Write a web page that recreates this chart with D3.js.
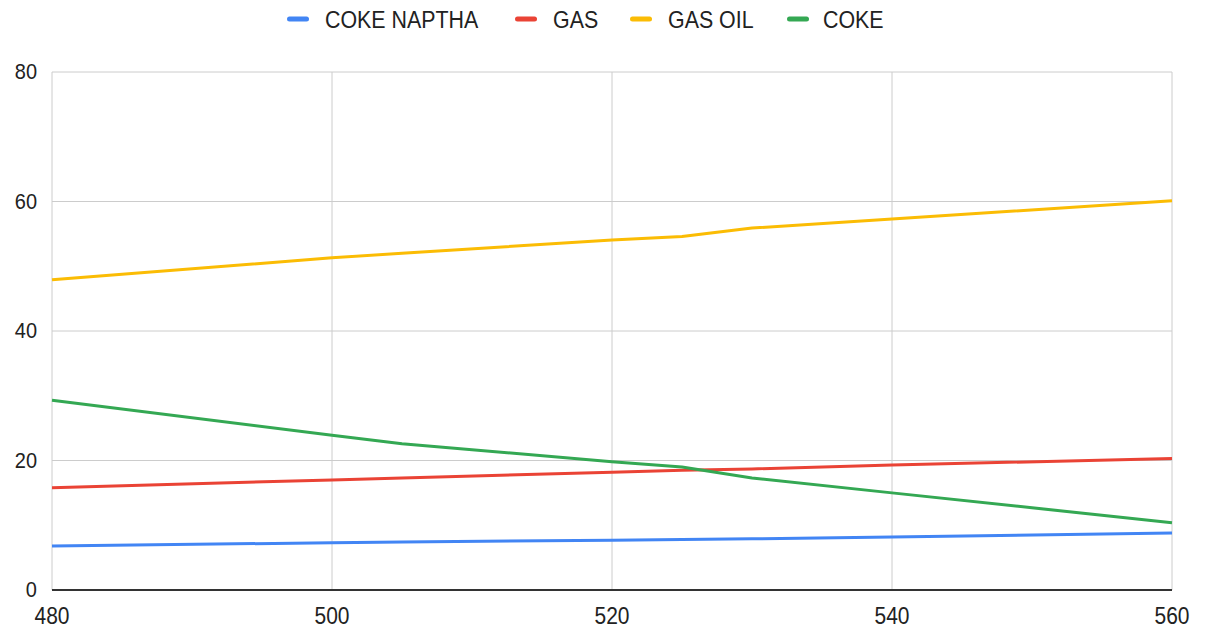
<!DOCTYPE html>
<html><head><meta charset="utf-8">
<script src="https://cdn.jsdelivr.net/npm/d3@7"></script>
<style>body{margin:0;background:#fff;} svg{display:block;font-family:"Liberation Sans", Arial, sans-serif;}</style>
</head><body>
<svg id="c" width="1208" height="628"></svg>
<script>
const xValues = [480, 500, 505, 520, 525, 530, 540, 560];
const cokeNaptha = [6.8, 7.3, 7.4, 7.7, 7.8, 7.9, 8.2, 8.8];
const gas = [15.8, 17.0, 17.3, 18.2, 18.5, 18.7, 19.3, 20.3];
const gasOil = [47.9, 51.3, 52.0, 54.05, 54.6, 55.9, 57.3, 60.1];
const coke = [29.3, 23.9, 22.6, 19.8, 19.0, 17.3, 15.0, 10.4];
const seriesNames = ["COKE NAPTHA", "GAS", "GAS OIL", "COKE"];
const seriesColors = ["#4285F4", "#EA4335", "#FBBC04", "#34A853"];
const xTicks = [480, 500, 520, 540, 560];
const yTicks = [0, 20, 40, 60, 80];

const series = [cokeNaptha, gas, gasOil, coke];
const svg = d3.select("#c");
const L = 52, R = 1172, T = 72, B = 590;
const x = d3.scaleLinear().domain([480, 560]).range([L, R]);
const y = d3.scaleLinear().domain([0, 80]).range([B, T]);

// gridlines
svg.append("g").selectAll("line").data(xTicks).join("line")
  .attr("x1", d => x(d)).attr("x2", d => x(d)).attr("y1", T).attr("y2", B)
  .attr("stroke", "#cccccc").attr("stroke-width", 1);
svg.append("g").selectAll("line").data(yTicks).join("line")
  .attr("x1", L).attr("x2", R).attr("y1", d => y(d)).attr("y2", d => y(d))
  .attr("stroke", "#cccccc").attr("stroke-width", 1);

// y tick labels
svg.append("g").selectAll("text").data(yTicks).join("text")
  .attr("transform", d => `translate(37,${y(d) + 7}) scale(1,1.12)`)
  .attr("text-anchor", "end").attr("font-size", 20).attr("fill", "#222")
  .text(d => d);
// x tick labels
svg.append("g").selectAll("text").data(xTicks).join("text")
  .attr("transform", d => `translate(${x(d)},624) scale(1,1.12)`)
  .attr("text-anchor", "middle").attr("font-size", 21).attr("fill", "#222")
  .text(d => d);

// lines
const line = d3.line().x((d, i) => x(xValues[i])).y(d => y(d));
series.forEach((s, k) => {
  svg.append("path").datum(s).attr("d", line)
    .attr("fill", "none").attr("stroke", seriesColors[k]).attr("stroke-width", 3)
    .attr("stroke-linejoin", "round");
});

// baseline axis
svg.append("line").attr("x1", L).attr("x2", R).attr("y1", B).attr("y2", B)
  .attr("stroke", "#333").attr("stroke-width", 2);

// legend
const swatchX = [287, 515, 630, 787];
const textX = [325, 553, 668, 823];
const lg = svg.append("g");
lg.selectAll("rect").data(seriesNames).join("rect")
  .attr("x", (d, i) => swatchX[i]).attr("y", 16.5).attr("width", 22).attr("height", 5).attr("rx", 2.5)
  .attr("fill", (d, i) => seriesColors[i]);
lg.selectAll("text").data(seriesNames).join("text")
  .attr("transform", (d, i) => `translate(${textX[i]},27.5) scale(1,1.1)`)
  .attr("font-size", 21.4).attr("fill", "#222").text(d => d);
</script>
</body></html>
